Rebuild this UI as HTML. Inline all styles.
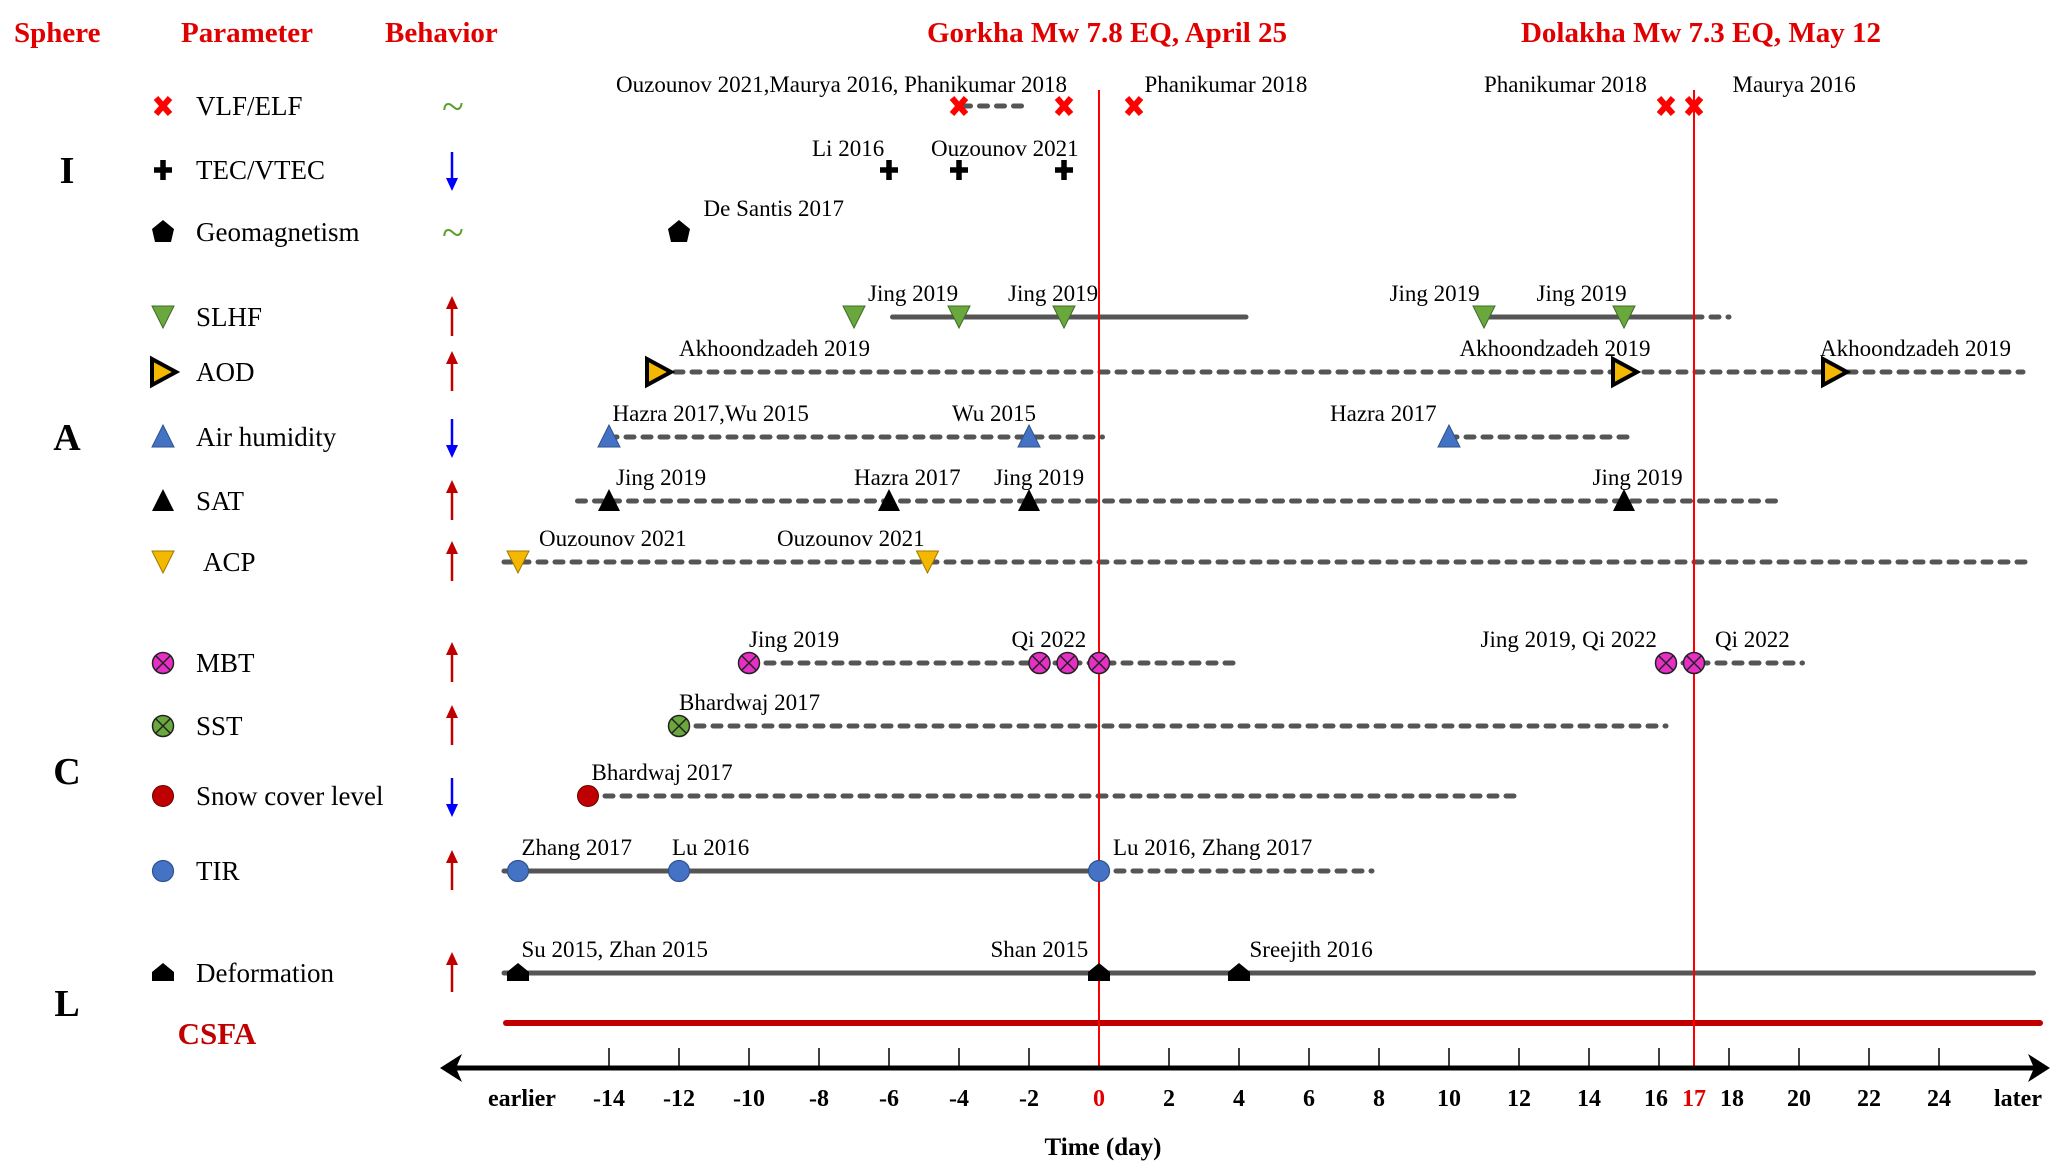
<!DOCTYPE html>
<html><head><meta charset="utf-8"><style>
html,body{margin:0;padding:0;background:#fff}
svg{display:block;font-family:"Liberation Serif",serif}
</style></head><body>
<svg id="chart" width="2067" height="1173" viewBox="0 0 2067 1173" xmlns="http://www.w3.org/2000/svg">
<g id="hdr" font-weight="bold" font-size="29" fill="#e00000">
<text x="14" y="42">Sphere</text>
<text x="181" y="42">Parameter</text>
<text x="385" y="42">Behavior</text>
<text x="1107" y="42" text-anchor="middle">Gorkha Mw 7.8 EQ, April 25</text>
<text x="1701" y="42" text-anchor="middle">Dolakha Mw 7.3 EQ, May 12</text>
</g>
<g id="body"></g>
</svg>
<script>
// ---- data ----
const rowNames = ["VLF/ELF","TEC/VTEC","Geomagnetism","SLHF","AOD","Air humidity","SAT","ACP","MBT","SST","Snow cover level","TIR","Deformation"];
const rowY = [106,170,232,317,372,437,501,562,663,726,796,871,973];
const rowMarker = ["x","plus","pent","tridown","triright","triup","triupk","tridowny","mbt","sst","dotred","dotblue","house"];
const rowBehavior = ["~","down","~","up","up","down","up","up","up","up","down","up","up"];
const rowMarkerDays = [
 [-4,-1,1,16.2,17],
 [-6,-4,-1],
 [-12],
 [-7,-4,-1,11,15],
 [-12.6,15,21],
 [-14,-2,10],
 [-14,-6,-2,15],
 [-16.6,-4.9],
 [-10,-1.7,-0.9,0,16.2,17],
 [-12],
 [-14.6],
 [-16.6,-12,0],
 [-16.6,0,4]
];
// segments: [row, startDay, endDay, solid?]
const segRows  = [0,3,3,3,4,5,5,6,7,8,8,9,10,11,11,12];
const segStart = [-3.9,-5.9,11,17,-12.6,-14,10,-14.9,-17,-10,16.2,-12,-14.6,-17,0,-17];
const segEnd   = [-2,4.2,17,18,26.4,0.1,15.3,19.4,26.7,3.9,20.1,16.2,12,0,7.8,26.7];
const segSolid = [0,1,1,0,0,0,0,0,0,0,0,0,0,1,0,1];
const labelText = ["Ouzounov 2021,Maurya 2016, Phanikumar 2018","Phanikumar 2018","Phanikumar 2018","Maurya 2016","Li 2016","Ouzounov 2021","De Santis 2017","Jing 2019","Jing 2019","Jing 2019","Jing 2019","Akhoondzadeh 2019","Akhoondzadeh 2019","Akhoondzadeh 2019","Hazra 2017,Wu 2015","Wu 2015","Hazra 2017","Jing 2019","Hazra 2017","Jing 2019","Jing 2019","Ouzounov 2021","Ouzounov 2021","Jing 2019","Qi 2022","Jing 2019, Qi 2022","Qi 2022","Bhardwaj 2017","Bhardwaj 2017","Zhang 2017","Lu 2016","Lu 2016, Zhang 2017","Su 2015, Zhan 2015","Shan 2015","Sreejith 2016"];
const labelDay = [-13.8,1.3,11.0,18.1,-8.2,-4.8,-11.3,-6.6,-2.6,8.3,12.5,-12.0,10.3,20.6,-13.9,-4.2,6.6,-13.8,-7.0,-3.0,14.1,-16.0,-9.2,-10.0,-2.5,10.9,17.6,-12.0,-14.5,-16.5,-12.2,0.4,-16.5,-3.1,4.3];
const labelRow = [0,0,0,0,1,1,2,3,3,3,3,4,4,4,5,5,5,6,6,6,6,7,7,8,8,8,8,9,10,11,11,11,12,12,12];
const tickDays = [-14,-12,-10,-8,-6,-4,-2,0,2,4,6,8,10,12,14,16,17,18,20,22,24];
const eqDays = [0,17];
// ---- scales ----
const X0 = 1099, PX = 35;
const xs = d => X0 + d*PX;
const NS = "http://www.w3.org/2000/svg";
const body = document.getElementById('body');
function mk(tag, attrs, parent){const e=document.createElementNS(NS,tag);for(const k in attrs)e.setAttribute(k,attrs[k]);(parent||body).appendChild(e);return e;}

const sphereT=["I","A","C","L"], sphereY=[170,437,771,1003];
sphereT.forEach((s,i)=>{const t=mk('text',{x:67,y:sphereY[i]+13,'font-size':38,'font-weight':'bold','text-anchor':'middle'});t.textContent=s;

});
const cs=mk('text',{x:217,y:1044,'font-size':31,'font-weight':'bold','fill':'#c00000','text-anchor':'middle'});cs.textContent="CSFA";



function marker(kind,cx,cy,g){
 const r=10.5;
 if(kind==="x"){mk('path',{d:`M${cx-7} ${cy-8}L${cx+7} ${cy+8}M${cx+7} ${cy-8}L${cx-7} ${cy+8}`,stroke:'#ff0000','stroke-width':6},g);}
 else if(kind==="plus"){mk('path',{d:`M${cx} ${cy-10}V${cy+10}M${cx-9} ${cy}H${cx+9}`,stroke:'#000','stroke-width':5.5},g);}
 else if(kind==="pent"){mk('path',{d:`M${cx} ${cy-12}L${cx+11} ${cy-3}L${cx+8} ${cy+10}H${cx-8}L${cx-11} ${cy-3}Z`,fill:'#000'},g);}
 else if(kind==="tridown"){mk('path',{d:`M${cx-11} ${cy-11}H${cx+11}L${cx} ${cy+11}Z`,fill:'#6aa83e',stroke:'#3c6b25','stroke-width':1},g);}
 else if(kind==="tridowny"){mk('path',{d:`M${cx-11} ${cy-11}H${cx+11}L${cx} ${cy+11}Z`,fill:'#f5b800',stroke:'#a07800','stroke-width':1},g);}
 else if(kind==="triright"){mk('path',{d:`M${cx-11} ${cy-13}L${cx+13} ${cy}L${cx-11} ${cy+13}Z`,fill:'#f5b800',stroke:'#000','stroke-width':4},g);}
 else if(kind==="triup"){mk('path',{d:`M${cx} ${cy-12}L${cx+11} ${cy+10}H${cx-11}Z`,fill:'#4472c4',stroke:'#2f528f','stroke-width':1},g);}
 else if(kind==="triupk"){mk('path',{d:`M${cx} ${cy-12}L${cx+11} ${cy+10}H${cx-11}Z`,fill:'#000'},g);}
 else if(kind==="mbt"||kind==="sst"){mk('circle',{cx,cy,r,fill:kind==="mbt"?'#e62fc4':'#6aa83e',stroke:'#222','stroke-width':1.5},g);
   mk('path',{d:`M${cx-7} ${cy-7}L${cx+7} ${cy+7}M${cx+7} ${cy-7}L${cx-7} ${cy+7}`,stroke:'#222','stroke-width':1.5},g);}
 else if(kind==="dotred"){mk('circle',{cx,cy,r,fill:'#c00000',stroke:'#600','stroke-width':1},g);}
 else if(kind==="dotblue"){mk('circle',{cx,cy,r,fill:'#4472c4',stroke:'#2f528f','stroke-width':1.2},g);}
 else if(kind==="house"){mk('path',{d:`M${cx} ${cy-10}L${cx+11} ${cy-1}V${cy+8}H${cx-11}V${cy-1}Z`,fill:'#000'},g);}
}

rowNames.forEach((n,i)=>{
 const g=mk('g',{});
 
 
 const y=rowY[i];
 marker(rowMarker[i],163,y,g);
 const t=mk('text',{x:n==="ACP"?203:196,y:y+9,'font-size':27},g);t.textContent=n;
 const b=rowBehavior[i];
 if(b==="~"){const s=mk('text',{x:453,y:y+14,'font-size':40,fill:'#5aa02c','text-anchor':'middle'},g);s.textContent="~";}
 else if(b==="up"){mk('path',{d:`M452 ${y+19}V${y-12}`,stroke:'#c00000','stroke-width':2.5},g);mk('path',{d:`M446 ${y-8}L452 ${y-21}L458 ${y-8}Z`,fill:'#c00000'},g);}
 else {mk('path',{d:`M452 ${y-18}V${y+12}`,stroke:'#0000ff','stroke-width':2.5},g);mk('path',{d:`M446 ${y+8}L452 ${y+21}L458 ${y+8}Z`,fill:'#0000ff'},g);}
});

segRows.forEach((r,i)=>{
 const y=rowY[r];
 const l=mk('line',{x1:xs(segStart[i]),x2:xs(segEnd[i]),y1:y,y2:y,stroke:'#555','stroke-width':5,'stroke-linecap':'round'});
 if(!segSolid[i]) l.setAttribute('stroke-dasharray','8 9');
 
 
});
const cl=mk('line',{x1:506,x2:2040,y1:1023,y2:1023,stroke:'#c00000','stroke-width':6,'stroke-linecap':'round'});



eqDays.forEach(d=>{const l=mk('line',{x1:xs(d),x2:xs(d),y1:90,y2:1068,stroke:'#ff0000','stroke-width':2});
 
 });

rowMarkerDays.forEach((ds,r)=>ds.forEach(d=>{const g=mk('g',{});
 
 
 marker(rowMarker[r],xs(d),rowY[r],g);}));

labelText.forEach((s,i)=>{const r=labelRow[i];const t=mk('text',{x:xs(labelDay[i]),y:rowY[r]-(r<2?14:16),'font-size':23});t.textContent=s;
 
 });

const ax=mk('g',{});


mk('line',{x1:452,x2:2036,y1:1068,y2:1068,stroke:'#000','stroke-width':5},ax);
mk('path',{d:'M440 1068L462 1054L456 1068L462 1082Z',fill:'#000'},ax);
mk('path',{d:'M2050 1068L2028 1054L2034 1068L2028 1082Z',fill:'#000'},ax);
tickDays.forEach(d=>{if(d===0||d===17)return;mk('line',{x1:xs(d),x2:xs(d),y1:1048,y2:1068,stroke:'#000','stroke-width':1.5},ax);});
tickDays.forEach(d=>{const t=mk('text',{x:xs(d)+(d===16?-3:d===18?3:0),y:1106,'font-size':24,'font-weight':'bold','text-anchor':'middle',fill:(d===0||d===17)?'#e00000':'#000'},ax);t.textContent=String(d);
 
 });
const e1=mk('text',{x:522,y:1106,'font-size':24,'font-weight':'bold','text-anchor':'middle'},ax);e1.textContent="earlier";


const e2=mk('text',{x:2018,y:1106,'font-size':24,'font-weight':'bold','text-anchor':'middle'},ax);e2.textContent="later";


const xt=mk('text',{x:1103,y:1155,'font-size':25,'font-weight':'bold','text-anchor':'middle'},ax);xt.textContent="Time (day)";


</script>
</body></html>
